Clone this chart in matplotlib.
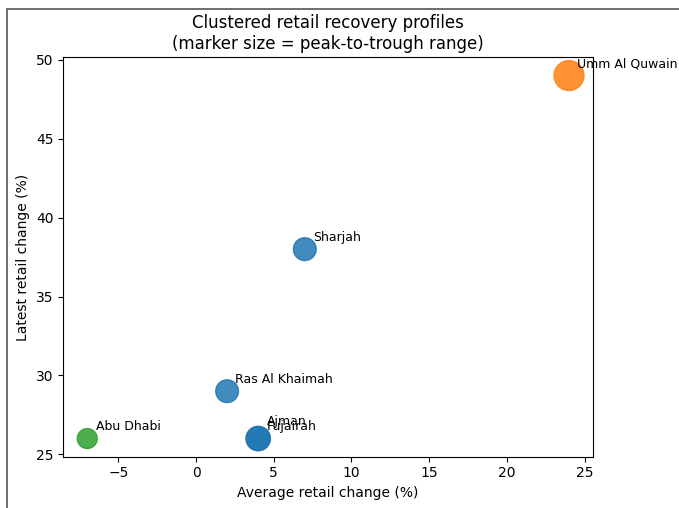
import matplotlib.pyplot as plt
from matplotlib.patches import Rectangle

# Emirate-level retail recovery figures
emirates = ['Abu Dhabi', 'Ajman', 'Fujairah', 'Ras Al Khaimah', 'Sharjah', 'Umm Al Quwain']
avg_change = [-7, 4, 4, 2, 7, 24]
latest_change = [26, 26, 26, 29, 38, 49]
peak_trough = [14, 17, 17, 16, 16, 21]
cluster = [2, 0, 0, 0, 0, 1]

cluster_colors = ['tab:blue', 'tab:orange', 'tab:green']

fig, ax = plt.subplots(figsize=(6.79, 5.08), dpi=100)
fig.subplots_adjust(left=0.093, right=0.8735, top=0.887, bottom=0.101)

sizes = [v ** 2 * 1.05 for v in peak_trough]
colors = [cluster_colors[c] for c in cluster]
ax.scatter(avg_change, latest_change, s=sizes, c=colors, alpha=0.85)

for name, x, y in zip(emirates, avg_change, latest_change):
    dy = 10 if name == 'Ajman' else 6
    ax.annotate(name, (x, y), xytext=(6, dy), textcoords='offset points', fontsize=9)

ax.set_xlabel('Average retail change (%)')
ax.set_ylabel('Latest retail change (%)')
ax.set_title('Clustered retail recovery profiles\n(marker size = peak-to-trough range)')

# thin frame around the figure
fig.patches.append(Rectangle((0.010, -0.1), 1.2, 1.083, transform=fig.transFigure,
                             fill=False, edgecolor='#555555', linewidth=1.2))

fig.savefig('out.png', dpi=100)
